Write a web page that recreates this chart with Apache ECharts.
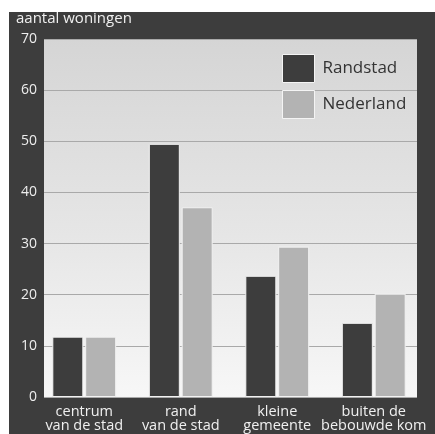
<!DOCTYPE html>
<html>
<head>
<meta charset="utf-8">
<script src="https://cdn.jsdelivr.net/npm/echarts@6/dist/echarts.min.js"></script>
<style>
  html, body { margin: 0; padding: 0; background: #ffffff; }
  #chart { width: 435px; height: 434px; }
</style>
</head>
<body>
<div id="chart"></div>
<script>
// Housing counts by location type
const categories = ['centrum\nvan de stad', 'rand\nvan de stad', 'kleine\ngemeente', 'buiten de\nbebouwde kom'];
const randstad = [11.8, 49.5, 23.7, 14.5];
const nederland = [11.8, 37.1, 29.4, 20.2];
const yTicks = { min: 0, max: 70, interval: 10 };
const axisTitle = 'aantal woningen';

const FONT = '"Open Sans", "DejaVu Sans", sans-serif';
const DARK = '#3d3d3d';
const LIGHT = '#b3b3b3';

const chart = echarts.init(document.getElementById('chart'), null, { renderer: 'canvas' });

chart.setOption({
  backgroundColor: '#ffffff',
  animation: false,
  graphic: [
    // dark frame around the plot
    { type: 'rect', z: -10, silent: true,
      shape: { x: 9, y: 12, width: 426, height: 422 },
      style: { fill: DARK } }
  ],
  title: {
    text: axisTitle,
    left: 16, top: 11,
    padding: 0,
    textStyle: { color: '#f0f0f0', fontSize: 15, fontWeight: 'normal', fontFamily: FONT }
  },
  legend: {
    orient: 'vertical',
    left: 282, top: 54,
    itemWidth: 32, itemHeight: 28, itemGap: 7,
    padding: 0,
    icon: 'rect',
    textStyle: { color: '#333333', fontSize: 17, fontFamily: FONT, padding: [0, 0, 0, 3] },
    itemStyle: { borderColor: '#f4f4f4', borderWidth: 1 },
    data: ['Randstad', 'Nederland']
  },
  grid: [
    // plot panel with grid lines and value labels
    { left: 44, right: 18, top: 39, bottom: 37,
      show: true, borderWidth: 0,
      backgroundColor: new echarts.graphic.LinearGradient(0, 0, 0, 1, [
        { offset: 0, color: '#d5d5d5' },
        { offset: 0.55, color: '#e6e6e6' },
        { offset: 1, color: '#f7f7f7' }
      ]) },
    // bar placement band
    { left: 36, right: 13, top: 39, bottom: 37 }
  ],
  xAxis: [
    { gridIndex: 0, type: 'category', data: categories, show: false },
    { gridIndex: 1, type: 'category', data: categories,
      axisLine: { show: false }, axisTick: { show: false },
      axisLabel: { color: '#f0f0f0', fontSize: 14.5, lineHeight: 14, fontFamily: FONT, margin: 8, interval: 0 } }
  ],
  yAxis: [
    { gridIndex: 0, type: 'value', min: yTicks.min, max: yTicks.max, interval: yTicks.interval,
      axisLine: { show: false }, axisTick: { show: false },
      axisLabel: { color: '#eeeeee', fontSize: 14, fontFamily: FONT, margin: 7 },
      splitLine: { lineStyle: { color: '#a9a9a9', width: 1 } } },
    { gridIndex: 1, type: 'value', min: yTicks.min, max: yTicks.max, interval: yTicks.interval,
      show: false, splitLine: { show: false } }
  ],
  series: [
    { name: 'Randstad', type: 'bar', xAxisIndex: 1, yAxisIndex: 1,
      data: randstad, barWidth: 31, barGap: '6%',
      itemStyle: { color: DARK, borderColor: '#f2f2f2', borderWidth: 1 } },
    { name: 'Nederland', type: 'bar', xAxisIndex: 1, yAxisIndex: 1,
      data: nederland, barWidth: 31, barGap: '6%',
      itemStyle: { color: LIGHT, borderColor: '#f2f2f2', borderWidth: 1 } }
  ]
});
</script>
</body>
</html>
